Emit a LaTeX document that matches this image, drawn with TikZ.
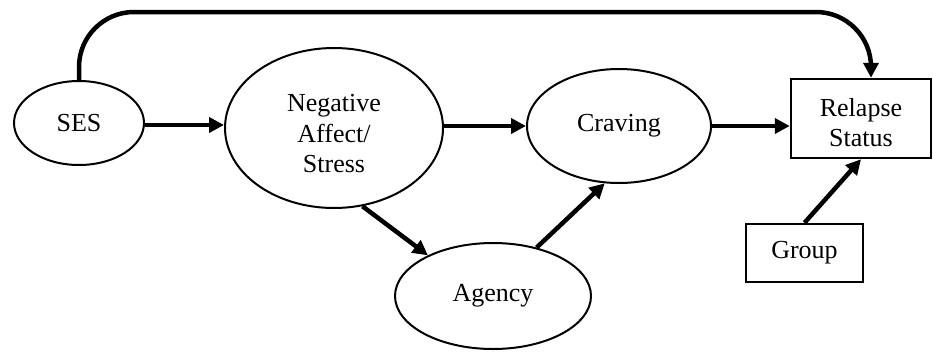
\documentclass[tikz,border=0pt]{standalone}
\usepackage{fontspec}
\setmainfont{Liberation Serif}
\usetikzlibrary{shapes.geometric,arrows.meta}
\begin{document}
\begin{tikzpicture}[x=1pt,y=-1pt,
  every node/.style={font=\fontsize{26}{30.5}\selectfont, align=center, inner sep=0pt},
  oval/.style={ellipse, draw, line width=2pt},
  box/.style={rectangle, draw, line width=2.5pt},
  lowtext/.style={label={[font=\fontsize{26}{30.5}\selectfont, align=center, yshift=-#1]center:}},
  link/.style={line width=4.5pt, -{Triangle[length=15pt,width=15pt]}}]
  \useasboundingbox (0,0) rectangle (933,351);

  % variables
  \node[oval, minimum width=130pt, minimum height=84pt] (S) at (79,123) {SES};
  \node[oval, minimum width=218pt, minimum height=160pt,
        label={[align=center, yshift=-6pt]center:Negative\\Affect/\\Stress}] (N) at (334,128) {};
  \node[oval, minimum width=184pt, minimum height=114pt] (C) at (619,126) {Craving};
  \node[oval, minimum width=196pt, minimum height=106pt] (A) at (493,296) {Agency};
  \node[box, minimum width=140pt, minimum height=79pt,
        label={[align=center, yshift=-4pt]center:Relapse\\Status}] (R) at (861,118.5) {};
  \node[box, minimum width=117pt, minimum height=58pt] (G) at (804.5,253) {Group};

  % paths
  \coordinate (top) at (470,12);
  \draw[link] ([yshift=-2pt]S.east) -- ([yshift=-2pt]S.east -| N.west);
  \draw[link] ([yshift=2pt]N.east) -- ([yshift=2pt]N.east -| C.west);
  \draw[link] (C.east) -- (C.east -| R.west);
  \draw[link] (N.-70) -- (A.148);
  \draw[link] (A.48) -- (C.-104);
  \draw[link] (G.north) -- (R.south);
  \draw[link, rounded corners=55pt] (S.north) |- (top) -| ([xshift=10pt]R.north);
\end{tikzpicture}
\end{document}
